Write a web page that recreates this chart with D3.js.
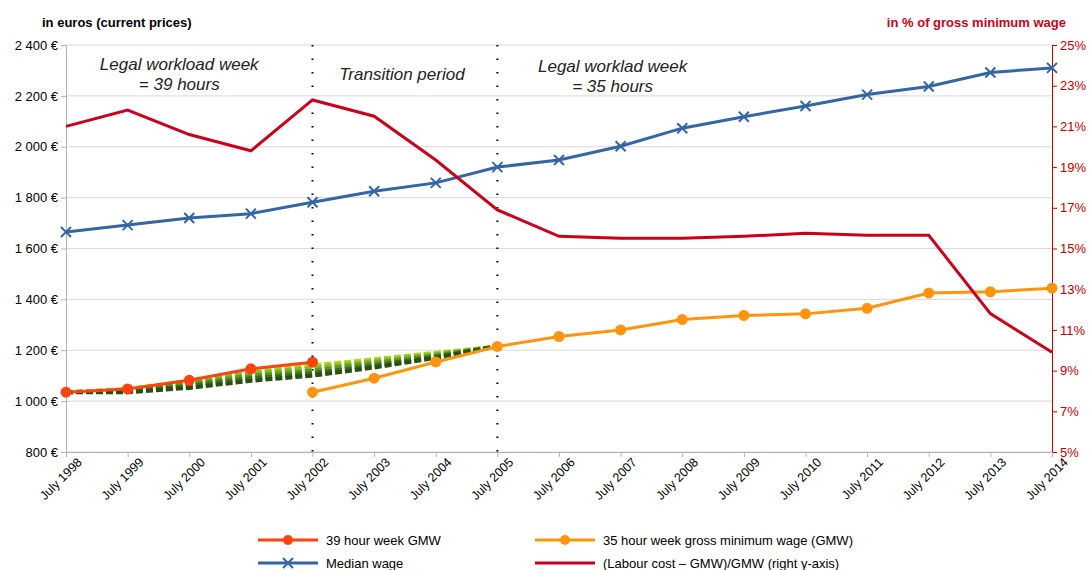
<!DOCTYPE html>
<html><head><meta charset="utf-8">
<script src="https://cdn.jsdelivr.net/npm/d3@7"></script>
<style>body{margin:0;font-family:"Liberation Sans",Arial,sans-serif;}</style>
</head><body><div id="plot"></div>
<script>
var years = d3.range(1998, 2015).map(function(y){return 'July ' + y;});
var median = [1665,1692,1720,1737,1782,1825,1858,1920,1948,2002,2073,2118,2160,2205,2237,2292,2310];
var gmw39 = [1035,1048,1082,1127,1153];
var gmw35 = [null,null,null,null,1035,1090,1154,1215,1254,1280,1321,1337,1343,1365,1425,1430,1444];
var labourPct = [21.0,21.8,20.6,19.8,22.3,21.5,19.35,16.9,15.6,15.5,15.5,15.6,15.75,15.65,15.65,11.8,9.9];
var gmr = [
  [1035,1048,1080,1120,1140,1165,1190,1215],
  [1035,1045,1075,1110,1130,1158,1185,1215],
  [1035,1040,1068,1100,1120,1150,1180,1215],
  [1035,1038,1060,1090,1110,1140,1175,1215],
  [1035,1035,1052,1080,1100,1132,1170,1215]
];
var gmrColors = ['#b5d31a','#86b82a','#5a9a22','#3d6e18','#2a4f10'];
var leftTicks = d3.range(800, 2401, 200);
var rightTicks = d3.range(5, 26, 2);

var margin = {t:45,r:39,b:118,l:66};
var W = 1091, H = 570;
var width = W - margin.l - margin.r, height = H - margin.t - margin.b;

var svg = d3.select('#plot').append('svg').attr('width', W).attr('height', H);
var plot = svg.append('g').attr('transform', 'translate(' + margin.l + ',' + margin.t + ')');

var x = d3.scalePoint().domain(years).range([0, width]);
var yL = d3.scaleLinear().domain([800, 2400]).range([height, 0]);
var yR = d3.scaleLinear().domain([5, 25]).range([height, 0]);

// grid
plot.selectAll('.grid').data(leftTicks).enter().append('line')
  .attr('x1', 0).attr('x2', width).attr('y1', yL).attr('y2', yL)
  .attr('stroke', '#d9d9d9');

var fmt = function(d){ return d3.format(',')(d).replace(',', ' ') + ' €'; };
var gL = plot.append('g').call(d3.axisLeft(yL).tickValues(leftTicks).tickFormat(fmt).tickSize(5));
gL.selectAll('text').attr('font-size', 13).attr('fill', '#000').attr('font-family', 'Liberation Sans');
gL.selectAll('line,path').attr('stroke', '#b3b3b3');

var gR = plot.append('g').attr('transform', 'translate(' + width + ',0)')
  .call(d3.axisRight(yR).tickValues(rightTicks).tickFormat(function(d){return d + '%';}).tickSize(5));
gR.selectAll('text').attr('font-size', 13).attr('fill', '#c00000').attr('font-family', 'Liberation Sans');
gR.selectAll('line,path').attr('stroke', '#c00000');

var gX = plot.append('g').attr('transform', 'translate(0,' + height + ')').call(d3.axisBottom(x).tickSize(5));
gX.selectAll('line,path').attr('stroke', '#b3b3b3');
gX.selectAll('text').attr('font-size', 12.5).attr('fill', '#000').attr('font-family', 'Liberation Sans')
  .attr('text-anchor', 'end').attr('dx', '0.3em').attr('dy', '0.9em').attr('transform', 'rotate(-45)');

// period separators
['July 2002', 'July 2005'].forEach(function(d){
  plot.append('line').attr('x1', x(d)).attr('x2', x(d)).attr('y1', 0).attr('y2', height)
    .attr('stroke', '#000').attr('stroke-width', 2).attr('stroke-dasharray', '1.5,12');
});

var ann = [
  {t:['Legal workload week', '= 39 hours'], x:(x('July 1998') + x('July 2002')) / 2 - 10, y:25},
  {t:['Transition period'], x:(x('July 2002') + x('July 2005')) / 2 - 3, y:35},
  {t:['Legal worklad week', '= 35 hours'], x:x('July 2007') - 8, y:27}
];
ann.forEach(function(a){
  a.t.forEach(function(s, i){
    plot.append('text').attr('x', a.x).attr('y', a.y + i * 20).attr('text-anchor', 'middle')
      .attr('font-size', 17).attr('font-style', 'italic').attr('fill', '#222').text(s);
  });
});

var lineL = d3.line().defined(function(d){return d != null;})
  .x(function(d, i){return x(years[i]);}).y(function(d){return yL(d);});

// green dashed lines
gmr.forEach(function(s, k){
  plot.append('path').datum(s).attr('d', lineL).attr('fill', 'none')
    .attr('stroke', gmrColors[k]).attr('stroke-width', 4).attr('stroke-dasharray', '7,3');
});

function series(data, color, marker){
  plot.append('path').datum(data).attr('d', lineL).attr('fill', 'none')
    .attr('stroke', color).attr('stroke-width', 3);
  data.forEach(function(d, i){
    if (d == null) return;
    var px = x(years[i]), py = yL(d);
    if (marker === 'circle') {
      plot.append('circle').attr('cx', px).attr('cy', py).attr('r', 5.5).attr('fill', color);
    } else {
      plot.append('path').attr('d', 'M-5,-5L5,5M-5,5L5,-5').attr('transform', 'translate(' + px + ',' + py + ')')
        .attr('stroke', color).attr('stroke-width', 2);
    }
  });
}
series(gmw39, '#ff420e', 'circle');
series(gmw35, '#ff950e', 'circle');
series(median, '#3465a4', 'x');

plot.append('path').datum(labourPct)
  .attr('d', d3.line().x(function(d, i){return x(years[i]);}).y(function(d){return yR(d);}))
  .attr('fill', 'none').attr('stroke', '#c9001b').attr('stroke-width', 3);

// axis titles
svg.append('text').attr('x', 42).attr('y', 27).attr('font-size', 13).attr('font-weight', 'bold')
  .text('in euros (current prices)');
svg.append('text').attr('x', 1066).attr('y', 27).attr('font-size', 13).attr('font-weight', 'bold')
  .attr('text-anchor', 'end').attr('fill', '#c9001b').text('in % of gross minimum wage');

// legend
var legend = [
  {n:'39 hour week GMW', c:'#ff420e', m:'circle', x:258, y:540},
  {n:'35 hour week gross minimum wage (GMW)', c:'#ff950e', m:'circle', x:535, y:540},
  {n:'Median wage', c:'#3465a4', m:'x', x:258, y:563},
  {n:'(Labour cost \u2013 GMW)/GMW (right y-axis)', c:'#c9001b', m:null, x:535, y:563}
];
legend.forEach(function(l){
  var g = svg.append('g').attr('transform', 'translate(' + l.x + ',' + l.y + ')');
  g.append('line').attr('x1', 0).attr('x2', 60).attr('stroke', l.c).attr('stroke-width', 3);
  if (l.m === 'circle') g.append('circle').attr('cx', 30).attr('r', 5).attr('fill', l.c);
  if (l.m === 'x') g.append('path').attr('d', 'M25,-5L35,5M25,5L35,-5').attr('stroke', l.c).attr('stroke-width', 2);
  g.append('text').attr('x', 68).attr('y', 5).attr('font-size', 13).text(l.n);
});
</script></body></html>
